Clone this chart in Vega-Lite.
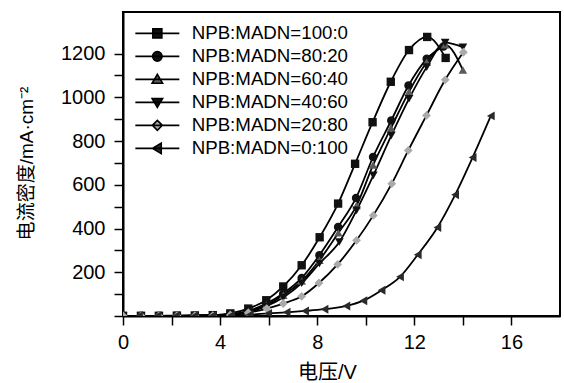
{
  "$schema": "https://vega.github.io/schema/vega-lite/v6.json",
  "width": 437,
  "height": 304,
  "autosize": "none",
  "padding": {"left": 123, "top": 12, "right": 4, "bottom": 67},
  "background": "white",
  "config": {
    "view": {"stroke": "black", "strokeWidth": 2},
    "font": "Liberation Sans"
  },
  "data": {
    "values": [
      {"s": "NPB:MADN=100:0", "v": 0, "j": 1}, {"s": "NPB:MADN=100:0", "v": 0.74, "j": 1}, {"s": "NPB:MADN=100:0", "v": 1.48, "j": 1}, {"s": "NPB:MADN=100:0", "v": 2.22, "j": 2}, {"s": "NPB:MADN=100:0", "v": 2.96, "j": 2}, {"s": "NPB:MADN=100:0", "v": 3.7, "j": 4}, {"s": "NPB:MADN=100:0", "v": 4.42, "j": 12}, {"s": "NPB:MADN=100:0", "v": 5.16, "j": 34}, {"s": "NPB:MADN=100:0", "v": 5.9, "j": 72}, {"s": "NPB:MADN=100:0", "v": 6.6, "j": 135}, {"s": "NPB:MADN=100:0", "v": 7.36, "j": 232}, {"s": "NPB:MADN=100:0", "v": 8.1, "j": 360}, {"s": "NPB:MADN=100:0", "v": 8.86, "j": 514}, {"s": "NPB:MADN=100:0", "v": 9.56, "j": 696}, {"s": "NPB:MADN=100:0", "v": 10.28, "j": 886}, {"s": "NPB:MADN=100:0", "v": 11.03, "j": 1071}, {"s": "NPB:MADN=100:0", "v": 11.78, "j": 1216}, {"s": "NPB:MADN=100:0", "v": 12.53, "j": 1276}, {"s": "NPB:MADN=100:0", "v": 13.29, "j": 1180},
      {"s": "NPB:MADN=80:20", "v": 0, "j": 1}, {"s": "NPB:MADN=80:20", "v": 0.74, "j": 1}, {"s": "NPB:MADN=80:20", "v": 1.48, "j": 1}, {"s": "NPB:MADN=80:20", "v": 2.22, "j": 1}, {"s": "NPB:MADN=80:20", "v": 2.96, "j": 2}, {"s": "NPB:MADN=80:20", "v": 3.7, "j": 3}, {"s": "NPB:MADN=80:20", "v": 4.42, "j": 8}, {"s": "NPB:MADN=80:20", "v": 5.16, "j": 24}, {"s": "NPB:MADN=80:20", "v": 5.9, "j": 57}, {"s": "NPB:MADN=80:20", "v": 6.6, "j": 103}, {"s": "NPB:MADN=80:20", "v": 7.36, "j": 174}, {"s": "NPB:MADN=80:20", "v": 8.09, "j": 278}, {"s": "NPB:MADN=80:20", "v": 8.86, "j": 407}, {"s": "NPB:MADN=80:20", "v": 9.6, "j": 540}, {"s": "NPB:MADN=80:20", "v": 10.3, "j": 727}, {"s": "NPB:MADN=80:20", "v": 11.05, "j": 894}, {"s": "NPB:MADN=80:20", "v": 11.76, "j": 1054}, {"s": "NPB:MADN=80:20", "v": 12.51, "j": 1176}, {"s": "NPB:MADN=80:20", "v": 13.2, "j": 1232},
      {"s": "NPB:MADN=60:40", "v": 0, "j": 1}, {"s": "NPB:MADN=60:40", "v": 0.74, "j": 1}, {"s": "NPB:MADN=60:40", "v": 1.48, "j": 1}, {"s": "NPB:MADN=60:40", "v": 2.22, "j": 1}, {"s": "NPB:MADN=60:40", "v": 2.96, "j": 2}, {"s": "NPB:MADN=60:40", "v": 3.7, "j": 3}, {"s": "NPB:MADN=60:40", "v": 4.42, "j": 7}, {"s": "NPB:MADN=60:40", "v": 5.16, "j": 20}, {"s": "NPB:MADN=60:40", "v": 5.9, "j": 50}, {"s": "NPB:MADN=60:40", "v": 6.6, "j": 95}, {"s": "NPB:MADN=60:40", "v": 7.36, "j": 160}, {"s": "NPB:MADN=60:40", "v": 8.09, "j": 255}, {"s": "NPB:MADN=60:40", "v": 8.87, "j": 380}, {"s": "NPB:MADN=60:40", "v": 9.62, "j": 505}, {"s": "NPB:MADN=60:40", "v": 10.3, "j": 690}, {"s": "NPB:MADN=60:40", "v": 11.04, "j": 860}, {"s": "NPB:MADN=60:40", "v": 11.78, "j": 1025}, {"s": "NPB:MADN=60:40", "v": 12.51, "j": 1160}, {"s": "NPB:MADN=60:40", "v": 13.27, "j": 1240}, {"s": "NPB:MADN=60:40", "v": 14.0, "j": 1125},
      {"s": "NPB:MADN=40:60", "v": 0, "j": 1}, {"s": "NPB:MADN=40:60", "v": 0.74, "j": 1}, {"s": "NPB:MADN=40:60", "v": 1.48, "j": 1}, {"s": "NPB:MADN=40:60", "v": 2.22, "j": 1}, {"s": "NPB:MADN=40:60", "v": 2.96, "j": 2}, {"s": "NPB:MADN=40:60", "v": 3.7, "j": 3}, {"s": "NPB:MADN=40:60", "v": 4.42, "j": 6}, {"s": "NPB:MADN=40:60", "v": 5.16, "j": 18}, {"s": "NPB:MADN=40:60", "v": 5.9, "j": 45}, {"s": "NPB:MADN=40:60", "v": 6.6, "j": 85}, {"s": "NPB:MADN=40:60", "v": 7.36, "j": 150}, {"s": "NPB:MADN=40:60", "v": 8.09, "j": 240}, {"s": "NPB:MADN=40:60", "v": 8.91, "j": 338}, {"s": "NPB:MADN=40:60", "v": 9.62, "j": 483}, {"s": "NPB:MADN=40:60", "v": 10.31, "j": 643}, {"s": "NPB:MADN=40:60", "v": 11.05, "j": 825}, {"s": "NPB:MADN=40:60", "v": 11.78, "j": 993}, {"s": "NPB:MADN=40:60", "v": 12.51, "j": 1138}, {"s": "NPB:MADN=40:60", "v": 13.27, "j": 1250}, {"s": "NPB:MADN=40:60", "v": 14.0, "j": 1229},
      {"s": "NPB:MADN=20:80", "v": 0, "j": 1}, {"s": "NPB:MADN=20:80", "v": 0.74, "j": 1}, {"s": "NPB:MADN=20:80", "v": 1.48, "j": 1}, {"s": "NPB:MADN=20:80", "v": 2.22, "j": 1}, {"s": "NPB:MADN=20:80", "v": 2.96, "j": 1}, {"s": "NPB:MADN=20:80", "v": 3.7, "j": 2}, {"s": "NPB:MADN=20:80", "v": 4.42, "j": 5}, {"s": "NPB:MADN=20:80", "v": 5.16, "j": 15}, {"s": "NPB:MADN=20:80", "v": 5.92, "j": 34}, {"s": "NPB:MADN=20:80", "v": 6.6, "j": 57}, {"s": "NPB:MADN=20:80", "v": 7.36, "j": 90}, {"s": "NPB:MADN=20:80", "v": 8.07, "j": 151}, {"s": "NPB:MADN=20:80", "v": 8.84, "j": 236}, {"s": "NPB:MADN=20:80", "v": 9.62, "j": 346}, {"s": "NPB:MADN=20:80", "v": 10.31, "j": 460}, {"s": "NPB:MADN=20:80", "v": 11.07, "j": 605}, {"s": "NPB:MADN=20:80", "v": 11.75, "j": 757}, {"s": "NPB:MADN=20:80", "v": 12.5, "j": 917}, {"s": "NPB:MADN=20:80", "v": 13.27, "j": 1080}, {"s": "NPB:MADN=20:80", "v": 14.02, "j": 1206},
      {"s": "NPB:MADN=0:100", "v": 0.66, "j": 1}, {"s": "NPB:MADN=0:100", "v": 1.42, "j": 1}, {"s": "NPB:MADN=0:100", "v": 2.18, "j": 1}, {"s": "NPB:MADN=0:100", "v": 2.94, "j": 1}, {"s": "NPB:MADN=0:100", "v": 3.7, "j": 2}, {"s": "NPB:MADN=0:100", "v": 4.46, "j": 3}, {"s": "NPB:MADN=0:100", "v": 5.22, "j": 6}, {"s": "NPB:MADN=0:100", "v": 5.98, "j": 12}, {"s": "NPB:MADN=0:100", "v": 6.74, "j": 17}, {"s": "NPB:MADN=0:100", "v": 7.5, "j": 23}, {"s": "NPB:MADN=0:100", "v": 8.3, "j": 31}, {"s": "NPB:MADN=0:100", "v": 9.2, "j": 46}, {"s": "NPB:MADN=0:100", "v": 9.9, "j": 70}, {"s": "NPB:MADN=0:100", "v": 10.65, "j": 118}, {"s": "NPB:MADN=0:100", "v": 11.41, "j": 179}, {"s": "NPB:MADN=0:100", "v": 12.14, "j": 280}, {"s": "NPB:MADN=0:100", "v": 12.95, "j": 405}, {"s": "NPB:MADN=0:100", "v": 13.68, "j": 554}, {"s": "NPB:MADN=0:100", "v": 14.4, "j": 725}, {"s": "NPB:MADN=0:100", "v": 15.15, "j": 915}
    ]
  },
  "encoding": {
    "x": {
      "field": "v", "type": "quantitative",
      "scale": {"domain": [0, 18], "nice": false, "zero": false},
      "axis": {
        "title": "电压/V",
        "values": [0, 2, 4, 6, 8, 10, 12, 14, 16],
        "labelExpr": "datum.value % 4 === 0 ? datum.label : ''",
        "grid": false,
        "domainColor": "black", "domainWidth": 2,
        "tickColor": "black", "tickWidth": 1.5, "tickSize": 9,
        "labelFont": "Liberation Sans", "labelFontSize": 20, "labelColor": "black", "labelPadding": 7,
        "labelFlush": false,
        "titleFont": "Liberation Sans, Noto Sans CJK SC", "titleFontSize": 20, "titleFontWeight": "normal", "titleColor": "black",
        "titleX": 204, "titleY": 56, "titleBaseline": "middle", "titleAlign": "center"
      }
    },
    "y": {
      "field": "j", "type": "quantitative",
      "scale": {"domain": [0, 1390], "nice": false, "zero": false},
      "axis": {
        "title": "电流密度/mA·cm⁻²",
        "format": "d",
        "values": [0, 100, 200, 300, 400, 500, 600, 700, 800, 900, 1000, 1100, 1200],
        "labelExpr": "datum.value % 200 === 0 && datum.value > 0 ? datum.label : ''",
        "grid": false,
        "domainColor": "black", "domainWidth": 2,
        "tickColor": "black", "tickWidth": 1.5, "tickSize": 9,
        "labelFont": "Liberation Sans", "labelFontSize": 20, "labelColor": "black", "labelPadding": 9,
        "labelFlush": false,
        "titleFont": "Liberation Sans, Noto Sans CJK SC", "titleFontSize": 19, "titleFontWeight": "normal", "titleColor": "black",
        "titleX": -97, "titleY": 151, "titleBaseline": "middle", "titleAlign": "center", "titleAngle": -90
      }
    }
  },
  "layer": [
    {
      "mark": {"type": "line", "interpolate": "monotone", "color": "black", "strokeWidth": 1.8, "clip": true},
      "encoding": {"detail": {"field": "s"}}
    },
    {
      "mark": {"type": "point", "filled": true, "opacity": 1, "clip": true},
      "encoding": {
        "shape": {
          "field": "s", "type": "nominal",
          "scale": {
            "domain": ["NPB:MADN=100:0", "NPB:MADN=80:20", "NPB:MADN=60:40", "NPB:MADN=40:60", "NPB:MADN=20:80", "NPB:MADN=0:100"],
            "range": ["square", "circle", "triangle-up", "triangle-down", "diamond", "triangle-left"]
          },
          "legend": null
        },
        "size": {
          "field": "s", "type": "nominal",
          "scale": {
            "domain": ["NPB:MADN=100:0", "NPB:MADN=80:20", "NPB:MADN=60:40", "NPB:MADN=40:60", "NPB:MADN=20:80", "NPB:MADN=0:100"],
            "range": [70, 80, 110, 110, 100, 120]
          },
          "legend": null
        },
        "fill": {
          "field": "s", "type": "nominal",
          "scale": {
            "domain": ["NPB:MADN=100:0", "NPB:MADN=80:20", "NPB:MADN=60:40", "NPB:MADN=40:60", "NPB:MADN=20:80", "NPB:MADN=0:100"],
            "range": ["#111111", "#111111", "#5a5a5a", "#111111", "#aaaaaa", "#2a2a2a"]
          },
          "legend": null
        }
      }
    },
    {
      "transform": [{"filter": "datum.v < -100"}],
      "mark": {"type": "point", "filled": false, "opacity": 1, "size": 100, "color": "black", "stroke": "black", "strokeWidth": 1.5},
      "encoding": {
        "shape": {
          "field": "s", "type": "nominal",
          "scale": {
            "domain": ["NPB:MADN=100:0", "NPB:MADN=80:20", "NPB:MADN=60:40", "NPB:MADN=40:60", "NPB:MADN=20:80", "NPB:MADN=0:100"],
            "range": [
              "M-4.4,0H4.4M-0.9,-0.9H0.9V0.9H-0.9Z",
              "M-4.4,0H4.4M-0.95,0A0.95,0.95 0 1,0 0.95,0A0.95,0.95 0 1,0 -0.95,0Z",
              "M-4.4,0H4.4M0,-1L1.05,0.78H-1.05Z",
              "M-4.4,0H4.4M0,1L1.05,-0.78H-1.05Z",
              "M-4.4,0H4.4M0,-1L1,0L0,1L-1,0Z",
              "M-4.4,0H4.4M-1,0L0.78,-1.05V1.05Z"
            ]
          },
          "legend": {
            "orient": "none", "legendX": 25, "legendY": 12, "padding": 0,
            "title": null,
            "labelFont": "Liberation Sans", "labelFontSize": 18.7, "labelColor": "black", "labelOffset": 25,
            "symbolSize": 100, "symbolStrokeColor": "black", "symbolStrokeWidth": 1.5, "symbolOpacity": 1,
            "rowPadding": 3,
            "encode": {"symbols": {"update": {"stroke": {"value": "black"}, "strokeWidth": {"value": 1.6}}}}
          }
        },
        "fill": {
          "field": "s", "type": "nominal",
          "scale": {
            "domain": ["NPB:MADN=100:0", "NPB:MADN=80:20", "NPB:MADN=60:40", "NPB:MADN=40:60", "NPB:MADN=20:80", "NPB:MADN=0:100"],
            "range": ["#111111", "#111111", "#5a5a5a", "#111111", "#aaaaaa", "#2a2a2a"]
          },
          "legend": {
            "orient": "none", "legendX": 25, "legendY": 12, "padding": 0,
            "title": null,
            "labelFont": "Liberation Sans", "labelFontSize": 18.7, "labelColor": "black", "labelOffset": 25,
            "symbolSize": 100, "symbolStrokeColor": "black", "symbolStrokeWidth": 1.5, "symbolOpacity": 1,
            "rowPadding": 3,
            "encode": {"symbols": {"update": {"stroke": {"value": "black"}, "strokeWidth": {"value": 1.6}}}}
          }
        }
      }
    }
  ],
  "resolve": {"scale": {"shape": "independent", "fill": "independent", "size": "independent"}}
}
